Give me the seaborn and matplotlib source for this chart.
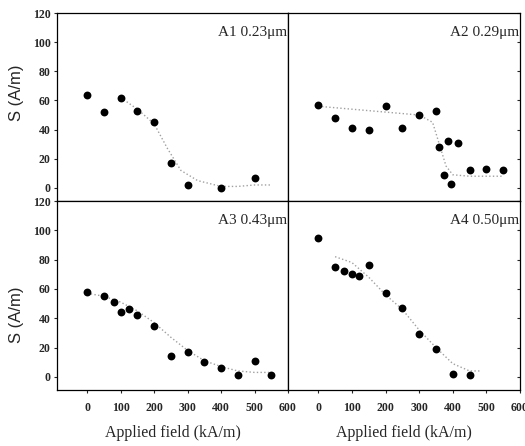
import matplotlib
matplotlib.use("Agg")
import matplotlib.pyplot as plt
import seaborn as sns
import pandas as pd

sns.set_theme(style="ticks")
plt.rcParams['font.family'] = ['Liberation Serif', 'DejaVu Serif']

# ---- data ----
a1_x = [0, 50, 100, 150, 200, 250, 300, 400, 500]
a1_y = [64, 52, 62, 53, 45, 17, 2, 0, 7]
a1_fit_x = [100, 150, 200, 240, 280, 330, 400, 450, 500, 550]
a1_fit_y = [62, 54, 44, 27, 12, 5, 1, 1, 2, 2]

a2_x = [0, 50, 100, 150, 200, 250, 300, 350, 360, 385, 415, 375, 395, 450, 500, 550]
a2_y = [57, 48, 41, 40, 56, 41, 50, 53, 28, 32, 31, 9, 3, 12, 13, 12]
a2_fit_x = [0, 100, 200, 300, 340, 360, 380, 400, 450, 500, 550]
a2_fit_y = [56, 54, 52, 50, 45, 30, 15, 9, 8, 8, 8]

a3_x = [0, 50, 80, 100, 125, 150, 200, 250, 300, 350, 400, 450, 500, 550]
a3_y = [58, 55, 51, 44, 46, 42, 35, 14, 17, 10, 6, 1, 11, 1]
a3_fit_x = [0, 50, 100, 150, 200, 250, 300, 350, 400, 450, 500, 550]
a3_fit_y = [57, 55, 51, 45, 37, 27, 18, 11, 7, 4, 3, 3]

a4_x = [0, 50, 78, 100, 120, 150, 200, 250, 300, 350, 400, 450]
a4_y = [95, 75, 72, 70, 69, 76, 57, 47, 29, 19, 2, 1]
a4_fit_x = [50, 100, 150, 200, 250, 300, 350, 400, 450, 480]
a4_fit_y = [82, 78, 68, 56, 46, 32, 20, 9, 4, 4]

labels = ["A1 0.23\u03bcm", "A2 0.29\u03bcm", "A3 0.43\u03bcm", "A4 0.50\u03bcm"]
y_ticks = [0, 20, 40, 60, 80, 100, 120]
x_ticks = [0, 100, 200, 300, 400, 500, 600]

panels = [
    (a1_x, a1_y, a1_fit_x, a1_fit_y),
    (a2_x, a2_y, a2_fit_x, a2_fit_y),
    (a3_x, a3_y, a3_fit_x, a3_fit_y),
    (a4_x, a4_y, a4_fit_x, a4_fit_y),
]

W, H = 525, 446
fig = plt.figure(figsize=(W / 100, H / 100), dpi=100)

def frac_rect(x0, y0, x1, y1):
    return [x0 / W, 1 - y1 / H, (x1 - x0) / W, (y1 - y0) / H]

rects = [
    frac_rect(57, 13, 288, 201),
    frac_rect(288, 13, 520, 201),
    frac_rect(57, 201, 288, 390),
    frac_rect(288, 201, 520, 390),
]

tick_font = dict(family='Liberation Serif', weight='bold', size=8.5)

for i, (rect, (px, py, fx, fy)) in enumerate(zip(rects, panels)):
    ax = fig.add_axes(rect)
    ax.set_facecolor('white')
    fit_df = pd.DataFrame({'x': fx, 'y': fy})
    pt_df = pd.DataFrame({'x': px, 'y': py})
    sns.lineplot(data=fit_df, x='x', y='y', ax=ax, color='#a0a0a0',
                 linestyle=':', linewidth=1.0, sort=False)
    sns.scatterplot(data=pt_df, x='x', y='y', ax=ax, color='black',
                    s=32, edgecolor='black', linewidth=0, zorder=3)
    ax.set_xlim(-90, 600)
    ax.set_ylim(-9, 120)
    ax.set_xlabel('')
    ax.set_ylabel('')
    for sp in ax.spines.values():
        sp.set_visible(True)
        sp.set_color('black')
        sp.set_linewidth(0.9)
    ax.set_yticks(y_ticks)
    ax.set_xticks(x_ticks)
    top = i < 2
    left = i % 2 == 0
    if left:
        ax.tick_params(axis='y', left=True, right=False, labelleft=True,
                       direction='out', length=2.5, width=0.8, pad=2)
        ax.set_yticklabels([str(v) for v in y_ticks], fontdict=tick_font)
    else:
        ax.tick_params(axis='y', left=False, right=True, labelleft=False,
                       labelright=False, direction='in', length=2.5, width=0.8)
    if top:
        ax.tick_params(axis='x', bottom=False, labelbottom=False)
    else:
        ax.tick_params(axis='x', bottom=True, labelbottom=True,
                       direction='out', length=2.5, width=0.8, pad=6)
        ax.set_xticklabels([str(v) for v in x_ticks], fontdict=tick_font)
        ax.set_xlabel('Applied field (kA/m)', fontsize=11.5, labelpad=8,
                      family='Liberation Serif')
    ax.text(0.997, 0.895, labels[i], transform=ax.transAxes, ha='right',
            va='center', fontsize=11, family='Liberation Serif')

fig.text(17 / W, 1 - 93 / H, 'S (A/m)', rotation=90, ha='center', va='center',
         fontsize=12, family='Liberation Sans')
fig.text(17 / W, 1 - 315 / H, 'S (A/m)', rotation=90, ha='center', va='center',
         fontsize=12, family='Liberation Sans')

fig.savefig('out.png', dpi=100, facecolor='white')
